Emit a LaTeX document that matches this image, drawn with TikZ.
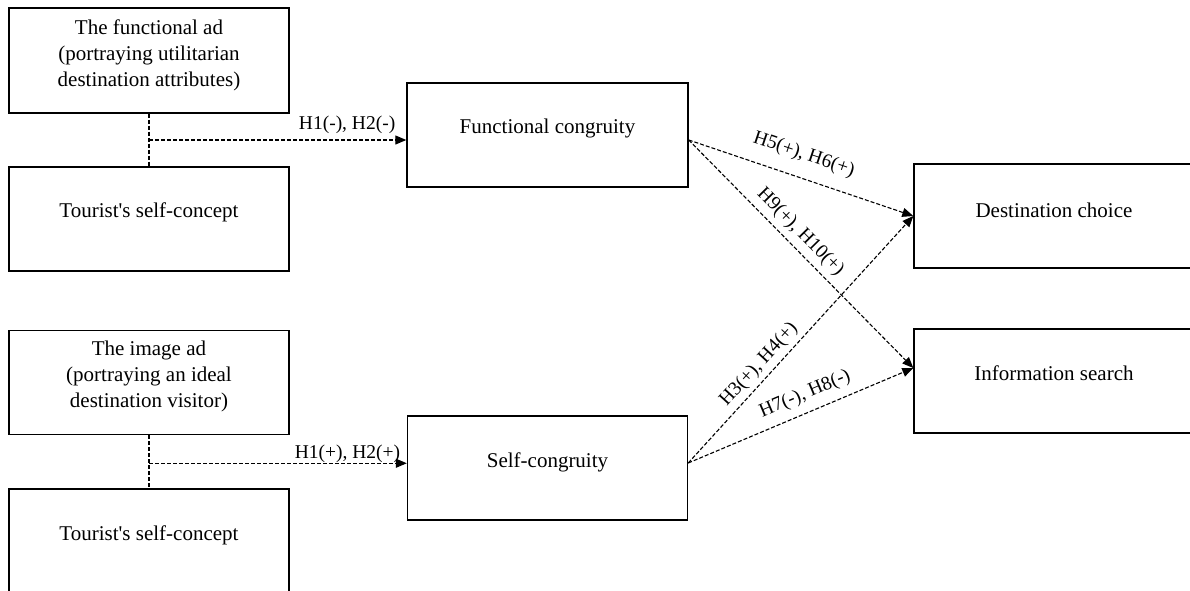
\documentclass[tikz,border=0pt]{standalone}
\usepackage{fontspec}
\setmainfont{Liberation Serif}
\usetikzlibrary{arrows.meta,calc}
\begin{document}
\begin{tikzpicture}[x=1pt,y=-1pt,
  box/.style={draw, line width=1.4pt, minimum width=280pt, minimum height=104pt, inner sep=0pt},
  boxtext/.style={font=\fontsize{21}{26}\selectfont, align=center, inner sep=0pt},
  link/.style={line width=1.1pt, dash pattern=on 4pt off 2pt},
  flow/.style={link, -{Triangle[length=11pt,width=9pt]}},
  hyp/.style={font=\fontsize{19.5}{23}\selectfont, inner sep=0pt}
]
\useasboundingbox (0,0) rectangle (1190,590);

% left column: advertisements and self-concept
\node[box, minimum height=105pt,
  label={[boxtext,yshift=5.5pt]center:The functional ad\\(portraying utilitarian\\destination attributes)}] (fad) at (149,60.5) {};
\node[box, label={[boxtext,yshift=7pt]center:Tourist\textquotesingle s self-concept}] (ts1) at (149,219) {};
\node[box, label={[boxtext,yshift=6.5pt]center:The image ad\\(portraying an ideal\\destination visitor)}] (iad) at (149,382.5) {};
\node[box, label={[boxtext,yshift=6pt]center:Tourist\textquotesingle s self-concept}] (ts2) at (149,541) {};

% middle column: congruity
\node[box, minimum width=281pt, label={[boxtext,yshift=7pt]center:Functional congruity}] (fc) at (547.5,135) {};
\node[box, label={[boxtext,yshift=6pt]center:Self-congruity}] (sc) at (547.5,468) {};

% right column: outcomes
\node[box, label={[boxtext,yshift=6pt]center:Destination choice}] (dc) at (1054,216) {};
\node[box, label={[boxtext,yshift=8pt]center:Information search}] (is) at (1054,381) {};

% junctions of ad and self-concept
\draw[link] (fad.south) -- (ts1.north);
\draw[link] (iad.south) -- (ts2.north);
\coordinate (j1) at ($(fad.south)!0.5!(ts1.north)$);
\coordinate (j2) at ($(iad.south)!0.5!(ts2.north)+(0,1.5)$);

\draw[flow] (j1) -- (j1 -| fc.west) node[hyp, pos=0.77, above=5.5pt] {H1(-), H2(-)};
\draw[flow] (j2) -- (j2 -| sc.west) node[hyp, pos=0.77, above=0pt] {H1(+), H2(+)};

% congruity to outcomes
\coordinate (fco) at ($(fc.east)+(0,5)$);
\coordinate (sco) at ($(sc.east)+(0,-5)$);
\coordinate (isin) at ($(is.west)+(0,-13)$);

\draw[flow] (fco) -- (dc.west) node[hyp, pos=0.48, sloped, above=13.5pt] {H5(+), H6(+)};
\draw[flow] (fco) -- (isin) node[hyp, pos=0.45, sloped, above=5.5pt] {H9(+), H10(+)};
\draw[flow] (sco) -- (dc.west) node[hyp, pos=0.36, sloped, above=4.5pt] {H3(+), H4(+)};
\draw[flow] (sco) -- (isin) node[hyp, pos=0.55, sloped, above=8.5pt] {H7(-), H8(-)};
\end{tikzpicture}
\end{document}
